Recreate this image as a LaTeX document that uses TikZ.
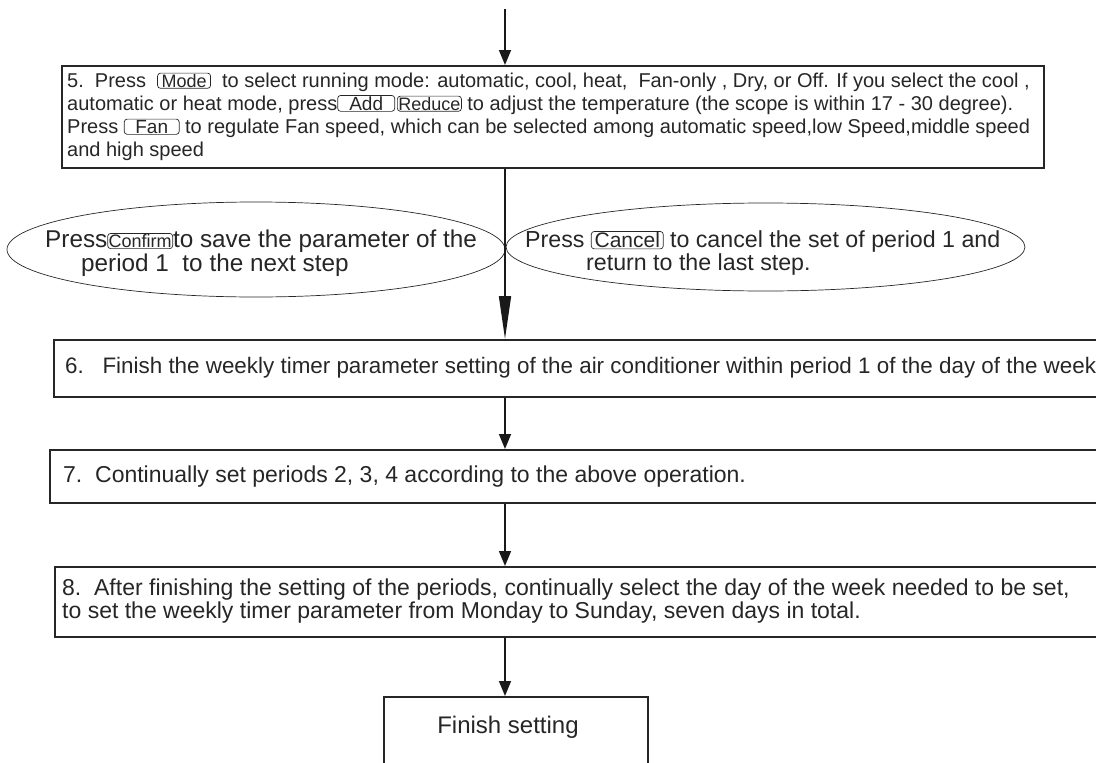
\documentclass[tikz,border=0pt]{standalone}
\usepackage{fontspec}
\setmainfont{Liberation Sans}
\usetikzlibrary{shapes.geometric,arrows.meta}
\tikzset{
  stepbox/.style={draw=black!85,line width=1.6pt,rectangle,inner sep=0pt,anchor=north west},
  steptext/.style={anchor=west,align=left,inner sep=0pt,text=black!85},
  ovalbox/.style={draw=black!85,line width=0.7pt,ellipse,inner sep=0pt},
  keynode/.style={draw=black!85,line width=0.7pt,rounded corners=3pt,inner xsep=1pt,inner ysep=1pt,text=black!85},
  flow/.style={draw=black!90,line width=1.6pt,-{Triangle[length=15pt,width=12pt]}},
  bigflow/.style={draw=black!90,line width=1.6pt,-{Triangle[length=43pt,width=12pt]}},
}
\newcommand\keyb[3][17]{\tikz[baseline=(kb.base)]\node[keynode,minimum width=#2,font=\fontsize{#1}{#1}\selectfont](kb){#3};}
\begin{document}
\begin{tikzpicture}[x=1pt,y=-1pt]
\useasboundingbox (0,0) rectangle (1096,763);
\clip (0,0) rectangle (1096,763);
\coordinate (top) at (505,9);
% step 5
\node[stepbox,minimum width=982pt,minimum height=102pt] (b5) at (61,65) {};
\node[steptext,font=\fontsize{20}{23}\selectfont] (t5) at (67,116.5) {5.\ \ Press\ \ \keyb[18]{53pt}{Mode}\ \ to select running mode: automatic, cool, heat,\ \ Fan-only , Dry, or Off. If you select the cool ,\\
automatic or heat mode, press\keyb[19]{57pt}{Add}\hspace{2pt}\keyb[18]{58pt}{Reduce} to adjust the temperature (the scope is within 17 - 30 degree).\\
Press \keyb[19]{55pt}{Fan} to regulate Fan speed, which can be selected among automatic speed,low Speed,middle speed\\
and high speed};
% ellipses
\node[ovalbox,minimum width=498pt,minimum height=95pt] (e1) at (256,249.5) {};
\node[ovalbox,minimum width=519pt,minimum height=88pt] (e2) at (765.5,247) {};
\node[steptext,font=\fontsize{24.3}{21}\selectfont] (te1) at (45,253) {Press\keyb[18]{52pt}{Confirm}to save the parameter of the\\
\hspace{36pt}period 1\ \ to the next step};
\node[steptext,font=\fontsize{23.2}{21}\selectfont] (te2) at (525,253) {Press \keyb[21]{72pt}{Cancel} to cancel the set of period 1 and\\
\hspace{61pt}return to the last step.};
% step 6
\node[stepbox,minimum width=1060pt,minimum height=57pt] (b6) at (53,339) {};
\node[steptext,font=\fontsize{22.4}{24}\selectfont] (t6) at (65,367.5) {6.\ \ \ Finish the weekly timer parameter setting of the air conditioner within period 1 of the day of the week};
% step 7
\node[stepbox,minimum width=1060pt,minimum height=53pt] (b7) at (49,449) {};
\node[steptext,font=\fontsize{23}{24}\selectfont] (t7) at (63,476.5) {7.\ \ Continually set periods 2, 3, 4 according to the above operation.};
% step 8
\node[stepbox,minimum width=1060pt,minimum height=70pt] (b8) at (54,566) {};
\node[steptext,font=\fontsize{23}{23}\selectfont] (t8) at (62,601.5) {8.\ \ After finishing the setting of the periods, continually select the day of the week needed to be set,\\
to set the weekly timer parameter from Monday to Sunday, seven days in total.};
% finish
\node[stepbox,minimum width=264pt,minimum height=90pt] (fin) at (383,696) {};
\node[anchor=center,inner sep=0pt,font=\fontsize{24}{24}\selectfont,text=black!85] (tfin) at (508,727) {Finish setting};
% connectors
\draw[flow] (top) -- (top |- b5.north);
\draw[bigflow] (top |- b5.south) -- (top |- b6.north);
\draw[flow] (top |- b6.south) -- (top |- b7.north);
\draw[flow] (top |- b7.south) -- (top |- b8.north);
\draw[flow] (top |- b8.south) -- (top |- fin.north);
\end{tikzpicture}
\end{document}
